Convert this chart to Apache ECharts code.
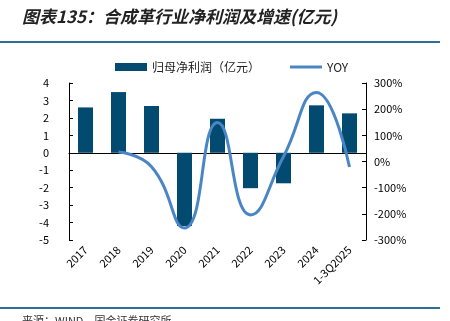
<!DOCTYPE html>
<html><head><meta charset="utf-8">
<script src="https://cdn.jsdelivr.net/npm/echarts@6/dist/echarts.min.js"></script>
<style>html,body{margin:0;padding:0;background:#fff}#c{width:450px;height:321px}</style>
</head><body><div id="c"></div>
<script>
const categories = ['2017','2018','2019','2020','2021','2022','2023','2024','1-3Q2025'];
const profit = [2.6, 3.48, 2.68, -4.2, 1.95, -2.03, -1.75, 2.72, 2.26];
const yoy = [null, 36, -20, -254, 149, -204, 19, 264, -21];
const leftTicks = {min: -5, max: 4, interval: 1};
const rightTicks = {min: -300, max: 300, interval: 100};

const chart = echarts.init(document.getElementById('c'));
const font = '"Noto Sans CJK SC", "Liberation Sans", Arial, sans-serif';
chart.setOption({
  animation: false,
  textStyle: {fontFamily: font},
  grid: {left: 69, right: 84, top: 83, bottom: 81},
  legend: {
    top: 56, left: 110, itemGap: 30, itemWidth: 32, itemHeight: 8,
    textStyle: {fontSize: 12, color: '#222', fontFamily: font},
    data: [
      {name: '归母净利润（亿元）', icon: 'rect'},
      {name: 'YOY', icon: 'path://M0,0 H32 V3 H0 Z', itemStyle: {color: '#4a86c6'}}
    ]
  },
  graphic: [
    {type: 'text', left: 22, top: 8, style: {text: '图表135：合成革行业净利润及增速(亿元)', font: 'italic bold 17px "Noto Sans CJK SC"', fill: '#222'}},
    {type: 'rect', shape: {x: 0, y: 41, width: 440, height: 2}, style: {fill: '#2f6f95'}},
    {type: 'rect', shape: {x: 0, y: 307, width: 440, height: 2}, style: {fill: '#2f6f95'}},
    {type: 'text', left: 22, top: 315, style: {text: '来源：WIND，国金证券研究所', font: '11px "Noto Sans CJK SC"', fill: '#333'}}
  ],
  xAxis: {
    type: 'category', data: categories,
    axisLine: {onZero: true, lineStyle: {color: '#000', width: 1}},
    axisTick: {inside: true, length: 4, lineStyle: {color: '#000'}},
    axisLabel: {rotate: 45, fontSize: 11, color: '#000', margin: 8, interval: 0}
  },
  yAxis: [
    {type: 'value', min: leftTicks.min, max: leftTicks.max, interval: leftTicks.interval,
     splitLine: {show: false},
     axisLine: {show: true, lineStyle: {color: '#000'}},
     axisTick: {show: true, inside: true, length: 4, lineStyle: {color: '#000'}},
     axisLabel: {fontSize: 11, color: '#000', margin: 20}},
    {type: 'value', min: rightTicks.min, max: rightTicks.max, interval: rightTicks.interval,
     splitLine: {show: false},
     axisLine: {show: true, lineStyle: {color: '#000'}},
     axisTick: {show: true, inside: true, length: 4, lineStyle: {color: '#000'}},
     axisLabel: {fontSize: 11, color: '#000', margin: 8, formatter: '{value}%'}}
  ],
  series: [
    {name: '归母净利润（亿元）', type: 'bar', data: profit, barWidth: 15,
     itemStyle: {color: '#034a70'}},
    {name: 'YOY', type: 'line', yAxisIndex: 1, data: yoy, smooth: 0.5,
     symbol: 'none', lineStyle: {color: '#4a86c6', width: 3}, itemStyle: {color: '#4a86c6'}}
  ]
});
</script></body></html>
